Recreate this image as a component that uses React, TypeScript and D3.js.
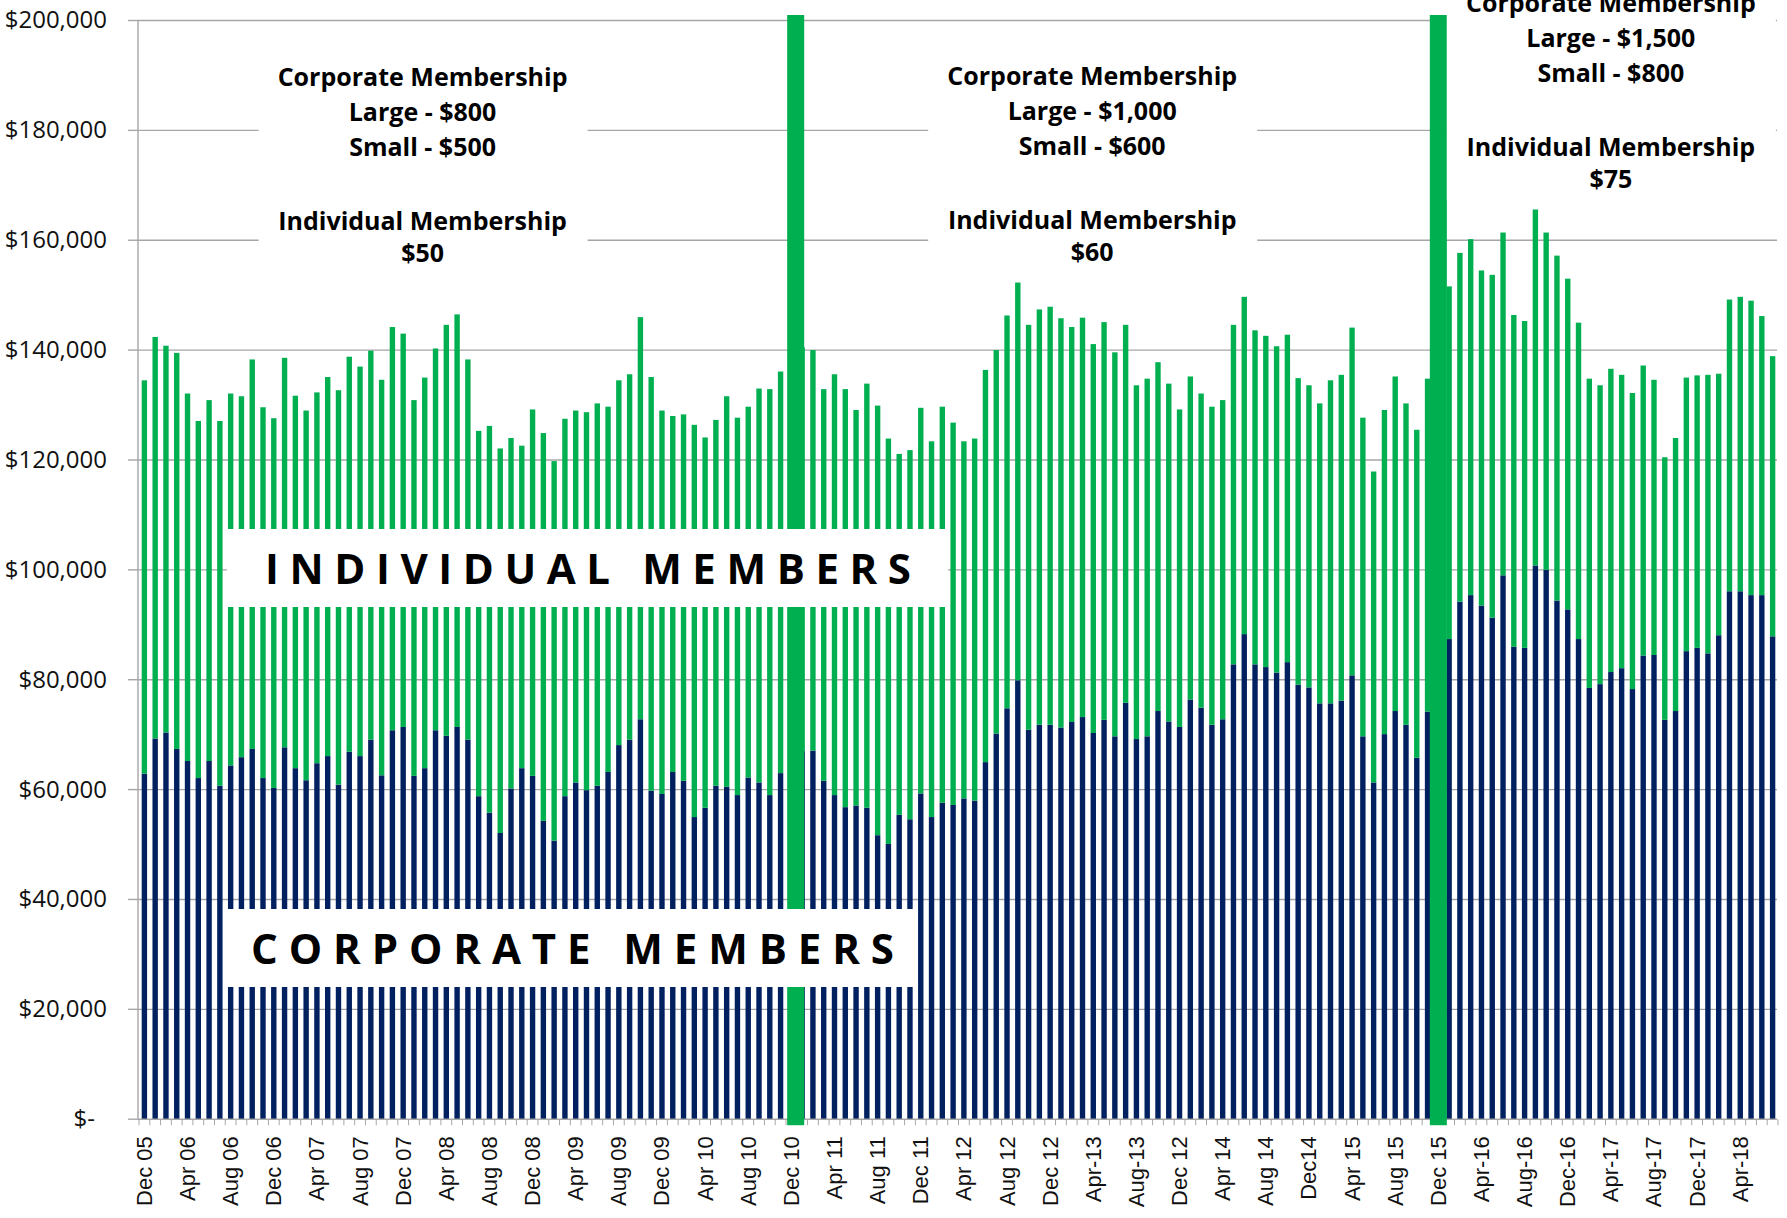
import * as d3 from 'd3';

// monthly membership revenue, Dec 2005 .. Jul 2018
const corporate = [
  62900, 69300, 70400, 67400, 65200, 62100, 65200, 60700, 64400, 65900,
  67400, 62100, 60300, 67700, 63900, 61700, 64800, 66100, 60900, 66900,
  66100, 69100, 62600, 70800, 71400, 62500, 63900, 70800, 69800, 71400,
  69100, 58800, 55800, 52100, 60200, 63900, 62500, 54300, 50700, 58800,
  61300, 59900, 60700, 63200, 68100, 69100, 72800, 59800, 59200, 63200,
  61600, 55000, 56700, 60700, 60500, 59000, 62200, 61300, 59000, 63000,
  64000, 67000, 67100, 61600, 59000, 56800, 57100, 56700, 51700, 50100,
  55400, 54600, 59300, 55000, 57600, 57200, 58400, 58000, 65000, 70200,
  74800, 79900, 70900, 71800, 71800, 71300, 72300, 73200, 70300, 72700,
  69700, 75800, 69200, 69700, 74300, 72400, 71400, 76400, 74900, 71800,
  72800, 82800, 88300, 82800, 82300, 81300, 83200, 79100, 78600, 75700,
  75700, 76200, 80800, 69700, 61300, 70100, 74300, 71800, 65800, 74200,
  86000, 87400, 94200, 95400, 93500, 91300, 99000, 86000, 85800, 100800,
  100000, 94400, 92800, 87400, 78500, 79200, 81400, 82100, 78300, 84400,
  84500, 72700, 74300, 85200, 85800, 84800, 88100, 96100, 96100, 95400,
  95400, 87900,
];

// top of each bar (corporate + individual)
const total = [
  134500, 142400, 140800, 139500, 132100, 127100, 130900, 127100, 132100, 131600,
  138300, 129600, 127600, 138600, 131700, 129000, 132300, 135100, 132700, 138800,
  137000, 139900, 134600, 144200, 143000, 130900, 135000, 140300, 144600, 146500,
  138300, 125300, 126200, 122100, 124000, 122600, 129200, 124900, 119800, 127500,
  129000, 128700, 130300, 129700, 134500, 135600, 146000, 135100, 129000, 128000,
  128300, 126400, 124100, 127300, 131600, 127700, 129700, 133000, 132900, 136100,
  138000, 140500, 140000, 132900, 135600, 132900, 129100, 133900, 129900, 123900,
  121100, 121800, 129500, 123400, 129700, 126800, 123400, 123900, 136400, 140000,
  146300, 152300, 144600, 147400, 147900, 145800, 144200, 145900, 141100, 145100,
  139600, 144600, 133600, 134800, 137800, 133900, 129200, 135200, 132100, 129700,
  130900, 144600, 149700, 143600, 142600, 140700, 142800, 134900, 133600, 130300,
  134500, 135500, 144100, 127700, 117900, 129100, 135200, 130300, 125500, 134800,
  150000, 151600, 157700, 160200, 154500, 153700, 161400, 146400, 145300, 165600,
  161400, 157200, 153000, 145000, 134800, 133600, 136600, 135500, 132200, 137200,
  134600, 120500, 124000, 135000, 135400, 135500, 135700, 149200, 149700, 149000,
  146200, 138900,
];

const tickLabels = [
  'Dec 05', 'Apr 06', 'Aug 06', 'Dec 06', 'Apr 07', 'Aug 07', 'Dec 07', 'Apr 08',
  'Aug 08', 'Dec 08', 'Apr 09', 'Aug 09', 'Dec 09', 'Apr 10', 'Aug 10', 'Dec 10',
  'Apr 11', 'Aug 11', 'Dec 11', 'Apr 12', 'Aug 12', 'Dec 12', 'Apr-13', 'Aug-13',
  'Dec 12', 'Apr 14', 'Aug 14', 'Dec14', 'Apr 15', 'Aug 15', 'Dec 15', 'Apr-16',
  'Aug-16', 'Dec-16', 'Apr-17', 'Aug-17', 'Dec-17', 'Apr-18',
];

// price changes: month position of the green divider
const priceChanges = [60.4, 120];

const priceNotes = [
  { at: 25.8, lines: ['Corporate Membership', 'Large - $800', 'Small - $500', 'Individual Membership', '$50'] },
  { at: 87.9, lines: ['Corporate Membership', 'Large - $1,000', 'Small - $600', 'Individual Membership', '$60'] },
  { at: 136.0, lines: ['Corporate Membership', 'Large - $1,500', 'Small - $800', 'Individual Membership', '$75'] },
];

const months = d3.timeMonth.range(new Date(2005, 11, 1), new Date(2018, 7, 1));
const keys = ['corporate', 'individual'];
const colors = { corporate: '#002060', individual: '#00b050' };

export default function App() {
  const W = 1787, H = 1218;
  const left = 138, right = 1777, top = 20.5, bottom = 1119.2;

  const x = d3.scaleBand<number>()
    .domain(d3.range(months.length))
    .range([left + 1, right + 1])
    .paddingInner(0.5)
    .paddingOuter(0.25);
  const y = d3.scaleLinear().domain([0, 200000]).range([bottom, top]);

  const rows = months.map((m, i) => ({
    i,
    corporate: corporate[i],
    individual: total[i] - corporate[i],
  }));
  const series = d3.stack<any>().keys(keys)(rows);

  const cx = (pos: number) => x(0)! + x.bandwidth() / 2 + pos * x.step();
  const lineOffsets = [0, 35, 70, 144, 176];
  const noteTop = [86, 85, 12];

  const yTicks = d3.range(0, 200001, 20000);
  const fmt = (v: number) => (v === 0 ? '$-' : '$' + d3.format(',')(v));

  return (
    <svg width={W} height={H} style={{ position: 'absolute', left: 0, top: 0, background: '#fff' }}>
      {/* grid */}
      {yTicks.filter(v => v > 0).map(v => (
        <line key={'g' + v} x1={left} x2={right} y1={y(v)} y2={y(v)} stroke="#a6a6a6" strokeWidth={1.4} />
      ))}
      {yTicks.map(v => (
        <line key={'t' + v} x1={left - 10} x2={left} y1={y(v)} y2={y(v)} stroke="#a6a6a6" strokeWidth={1.4} />
      ))}
      <line x1={left} x2={left} y1={top} y2={bottom} stroke="#a6a6a6" strokeWidth={1.4} />

      {/* bars */}
      {series.map(s => (
        <g key={s.key} fill={(colors as any)[s.key]}>
          {s.map((d, i) => (
            <rect key={i} x={x(i)} width={x.bandwidth()} y={y(d[1])} height={y(d[0]) - y(d[1])} />
          ))}
        </g>
      ))}

      {/* x axis */}
      <line x1={left} x2={right} y1={bottom} y2={bottom} stroke="#a6a6a6" strokeWidth={1.4} />
      {d3.range(months.length + 1).map(i => {
        const xx = x(0)! - (x.step() - x.bandwidth()) / 2 + i * x.step();
        return <line key={'m' + i} x1={xx} x2={xx} y1={bottom} y2={bottom + 6} stroke="#a6a6a6" strokeWidth={1} />;
      })}
      {tickLabels.map((t, k) => (
        <text key={'xl' + k}
          transform={`translate(${cx(k * 4)},${bottom + 17}) rotate(-90)`}
          textAnchor="end" dominantBaseline="central"
          style={{ font: '22px "Liberation Sans", Arial, sans-serif', fill: '#111' }}>
          {t}
        </text>
      ))}

      {/* y labels */}
      {yTicks.map(v => (
        <text key={'yl' + v} x={v === 0 ? 95 : 107} y={y(v)} dy="0.33em" textAnchor="end"
          style={{ font: '24px "Open Sans", sans-serif', fill: '#111' }}>
          {fmt(v)}
        </text>
      ))}

      {/* price change dividers */}
      {priceChanges.map((p, k) => (
        <rect key={'pc' + k} x={cx(p) - x.step() * 0.79} width={x.step() * 1.58}
          y={15} height={bottom + 6 - 15} fill="#00b050" />
      ))}

      {/* price notes */}
      {priceNotes.map((n, k) => {
        const c = cx(n.at);
        const t0 = noteTop[k];
        return (
          <g key={'pn' + k}>
            <rect x={c - 164} width={329} y={k === 2 ? 0 : t0 - 44} height={k === 2 ? 200 : 236} fill="#fff" />
            {n.lines.map((l, j) => (
              <text key={j} x={c} y={t0 + lineOffsets[j]} textAnchor="middle"
                style={{ font: 'bold 25px "Open Sans", sans-serif', fill: '#000' }}>
                {l}
              </text>
            ))}
          </g>
        );
      })}

      {/* series labels */}
      <rect x={227} y={529} width={721} height={78} fill="#fff" />
      <text x={265} y={584} textLength={646} lengthAdjust="spacing"
        style={{ font: 'bold 42px "Open Sans", sans-serif', fill: '#000' }}>
        INDIVIDUAL MEMBERS
      </text>
      <rect x={226} y={909} width={689} height={78} fill="#fff" />
      <text x={251} y={964} textLength={643} lengthAdjust="spacing"
        style={{ font: 'bold 42px "Open Sans", sans-serif', fill: '#000' }}>
        CORPORATE MEMBERS
      </text>
    </svg>
  );
}
